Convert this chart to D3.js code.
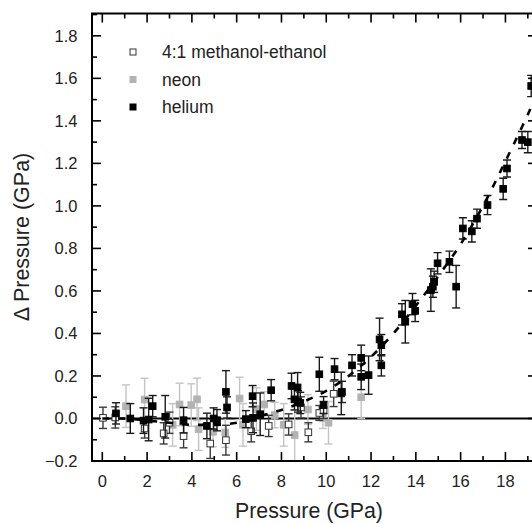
<!DOCTYPE html>
<html><head><meta charset="utf-8">
<script src="https://cdn.jsdelivr.net/npm/d3@7"></script>
<style>body{margin:0;background:#fff}svg{display:block}text{font-family:"Liberation Sans",Arial,sans-serif}</style>
</head><body><svg id="c" width="532" height="524"></svg>
<script>
// series: [pressure, deltaP, error]
const methanolEthanol = [[0.03,0.003,0.05],[0.58,0.005,0.05],[1.89,-0.047,0.045],[2.74,-0.07,0.05],[3.0,-0.02,0.05],[3.63,-0.083,0.055],[4.82,-0.118,0.07],[5.52,-0.102,0.07],[6.65,-0.06,0.05],[7.43,-0.035,0.05],[8.32,-0.028,0.05],[8.87,0.052,0.05],[9.2,-0.065,0.045],[9.69,0.026,0.035],[9.88,0.04,0.04],[10.33,0.116,0.06]];
const neon = [[1.06,0.058,0.1],[1.89,0.089,0.1],[3.14,-0.03,0.1],[3.45,0.066,0.1],[3.97,0.063,0.1],[4.23,0.09,0.1],[4.3,-0.05,0.1],[4.94,-0.063,0.07],[5.49,-0.066,0.07],[6.13,0.094,0.1],[6.28,-0.03,0.1],[6.88,0.044,0.1],[7.23,0.066,0.06],[7.7,0.016,0.06],[8.1,-0.03,0.1],[8.59,-0.078,0.12],[9.18,0.042,0.07],[9.85,0.003,0.05],[10.1,-0.02,0.1],[11.56,0.1,0.1]];
const helium = [[0.61,0.024,0.05],[1.25,0.0,0.07],[1.84,-0.01,0.06],[2.07,-0.005,0.1],[2.25,0.058,0.05],[2.81,0.008,0.1],[3.63,-0.008,0.06],[4.67,-0.035,0.06],[4.97,0.0,0.05],[5.12,-0.008,0.05],[5.52,0.125,0.1],[5.57,0.052,0.05],[6.41,-0.003,0.04],[6.71,0.105,0.05],[6.73,0.003,0.07],[7.05,0.02,0.1],[7.54,0.133,0.05],[8.45,0.153,0.06],[8.72,0.146,0.07],[8.58,0.09,0.05],[8.74,0.08,0.05],[8.84,0.073,0.05],[9.69,0.208,0.08],[9.88,0.063,0.04],[10.37,0.232,0.05],[10.67,0.118,0.1],[10.7,0.125,0.05],[11.15,0.25,0.05],[11.56,0.285,0.06],[11.56,0.196,0.06],[11.89,0.204,0.09],[12.38,0.372,0.1],[12.46,0.345,0.05],[12.46,0.25,0.05],[13.38,0.49,0.05],[13.53,0.455,0.1],[13.85,0.538,0.05],[13.97,0.506,0.05],[14.67,0.604,0.1],[14.76,0.62,0.05],[14.82,0.643,0.05],[14.97,0.73,0.05],[15.5,0.737,0.05],[15.8,0.62,0.1],[16.1,0.894,0.05],[16.5,0.88,0.05],[16.73,0.94,0.045],[17.2,1.004,0.045],[17.9,1.08,0.05],[18.07,1.176,0.04],[18.74,1.31,0.04],[19.0,1.30,0.05],[19.15,1.564,0.05]];
const fitX = [0,1,2,3,4,5,6,7,8,9,10,11,12,13,14,15,16,17,18,19,19.6];
const fitY = [0.0,0.0,-0.01,-0.02,-0.03,-0.03,-0.02,0.01,0.04,0.08,0.13,0.2,0.29,0.4,0.53,0.67,0.82,1.0,1.21,1.43,1.57];
const xTicks = [0,2,4,6,8,10,12,14,16,18];
const yTicks = [-0.2,0.0,0.2,0.4,0.6,0.8,1.0,1.2,1.4,1.6,1.8];
const legendLabels = ["4:1 methanol-ethanol","neon","helium"];

const svg = d3.select("#c");
const L=92, R=537, T=13.5, B=461;
const x = d3.scaleLinear().domain([-0.46,19.41]).range([L,R]);
const y = d3.scaleLinear().domain([-0.2,1.905]).range([B,T]);
const fmt = d3.format(".1f");

svg.append("clipPath").attr("id","cp").append("rect").attr("x",L).attr("y",T).attr("width",R-L).attr("height",B-T);
const plot = svg.append("g").attr("clip-path","url(#cp)");

// zero line
plot.append("line").attr("x1",x(-0.46)).attr("x2",x(19.41)).attr("y1",y(0)).attr("y2",y(0)).attr("stroke","#000").attr("stroke-width",2);

function drawSeries(data, barColor, fill, stroke){
  const g = plot.append("g");
  const eb = g.selectAll(".eb").data(data).enter().append("g").attr("stroke",barColor).attr("stroke-width",1.4).attr("fill","none");
  eb.append("line").attr("x1",d=>x(d[0])).attr("x2",d=>x(d[0])).attr("y1",d=>y(d[1]-d[2])).attr("y2",d=>y(d[1]+d[2]));
  eb.append("line").attr("x1",d=>x(d[0])-4).attr("x2",d=>x(d[0])+4).attr("y1",d=>y(d[1]-d[2])).attr("y2",d=>y(d[1]-d[2]));
  eb.append("line").attr("x1",d=>x(d[0])-4).attr("x2",d=>x(d[0])+4).attr("y1",d=>y(d[1]+d[2])).attr("y2",d=>y(d[1]+d[2]));
  g.selectAll(".m").data(data).enter().append("rect")
    .attr("x",d=>x(d[0])-3.3).attr("y",d=>y(d[1])-3.3).attr("width",6.6).attr("height",6.6)
    .attr("fill",fill).attr("stroke",stroke).attr("stroke-width",1);
}
drawSeries(neon,"#c4c4c4","#b3b3b3","#b3b3b3");
drawSeries(methanolEthanol,"#3a3a3a","#fff","#333");
drawSeries(helium,"#1a1a1a","#000","#000");

// fit dashed curve
const fit = fitX.map((v,i)=>[v,fitY[i]]);
plot.append("path").datum(fit).attr("d",d3.line().x(d=>x(d[0])).y(d=>y(d[1])).curve(d3.curveMonotoneX))
  .attr("fill","none").attr("stroke","#000").attr("stroke-width",2.6).attr("stroke-dasharray","7,9");

// frame
svg.append("rect").attr("x",L).attr("y",T).attr("width",R-L).attr("height",B-T).attr("fill","none").attr("stroke","#000").attr("stroke-width",2);

// ticks
const xMinor = d3.range(0,20,1), yMinor = d3.range(-0.2,1.9001,0.1);
const tk = svg.append("g").attr("stroke","#000").attr("stroke-width",1.6);
xMinor.forEach(v=>{
  const len = (v%2===0)?9:5;
  tk.append("line").attr("x1",x(v)).attr("x2",x(v)).attr("y1",B).attr("y2",B-len);
  tk.append("line").attr("x1",x(v)).attr("x2",x(v)).attr("y1",T).attr("y2",T+len);
});
yMinor.forEach(v=>{
  const maj = Math.abs(Math.round(v*10))%2===0;
  const len = maj?9:5;
  tk.append("line").attr("x1",L).attr("x2",L+len).attr("y1",y(v)).attr("y2",y(v));
  tk.append("line").attr("x1",R).attr("x2",R-len).attr("y1",y(v)).attr("y2",y(v));
});

// tick labels
svg.append("g").selectAll("text").data(xTicks).enter().append("text")
  .attr("x",d=>x(d)).attr("y",487).attr("text-anchor","middle").attr("font-size",16.5).attr("fill","#222").text(d=>d);
svg.append("g").selectAll("text").data(yTicks).enter().append("text")
  .attr("x",77.5).attr("y",d=>y(d)+6).attr("text-anchor","end").attr("font-size",16.5).attr("fill","#222").text(d=>fmt(d));

// axis titles
svg.append("text").attr("x",309).attr("y",518).attr("text-anchor","middle").attr("font-size",21.3).attr("fill","#222").text("Pressure (GPa)");
svg.append("text").attr("transform","translate(29,237) rotate(-90)").attr("text-anchor","middle").attr("font-size",21.5).attr("fill","#222").text("Δ Pressure (GPa)");

// legend
const lg = svg.append("g");
const lf = [["#fff","#333"],["#b3b3b3","#b3b3b3"],["#000","#000"]];
legendLabels.forEach((t,i)=>{
  const cy = 52 + i*27.5;
  lg.append("rect").attr("x",130).attr("y",cy-3).attr("width",6).attr("height",6).attr("fill",lf[i][0]).attr("stroke",lf[i][1]).attr("stroke-width",1);
  lg.append("text").attr("x",162).attr("y",cy+6).attr("font-size",17.5).attr("fill","#222").text(t);
});
</script></body></html>
